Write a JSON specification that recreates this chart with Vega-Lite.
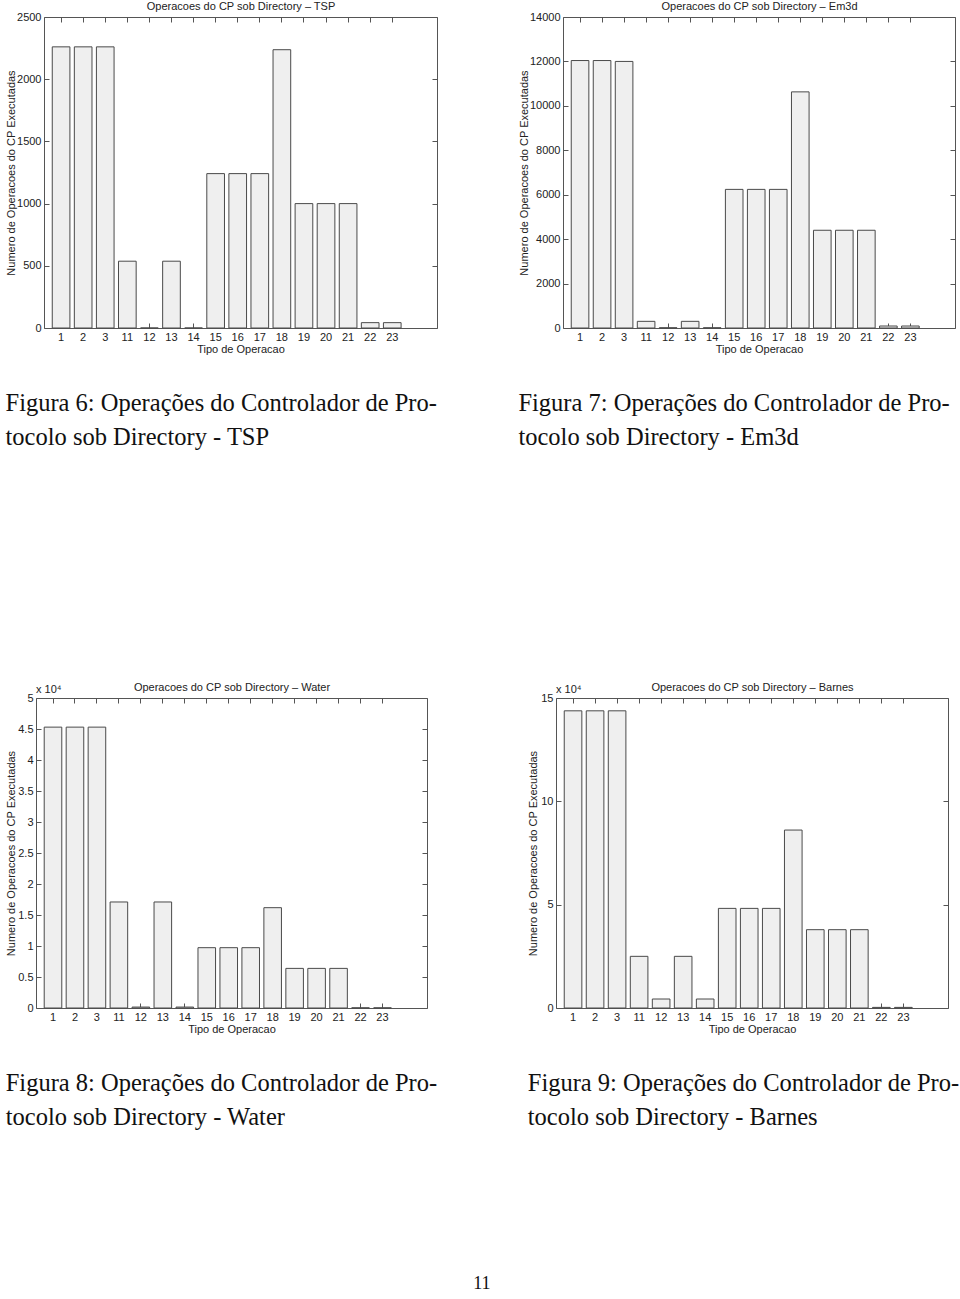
{
  "$schema": "https://vega.github.io/schema/vega-lite/v6.json",
  "background": "white",
  "padding": {"left": 4, "top": 0, "right": 0, "bottom": 0},
  "config": {
    "view": {"stroke": "#555555", "strokeWidth": 1},
    "font": "Liberation Sans",
    "axis": {
      "labelFont": "Liberation Sans", "labelFontSize": 11, "labelColor": "#222222",
      "titleFont": "Liberation Sans", "titleFontSize": 11, "titleFontWeight": "normal", "titleColor": "#222222",
      "domain": false, "grid": false, "tickColor": "#555555", "tickSize": -5, "labelPadding": 8
    },
    "title": {"font": "Liberation Serif", "fontSize": 24.5, "fontWeight": "normal", "color": "#111111", "orient": "bottom", "anchor": "start", "lineHeight": 34, "offset": 38}
  },
  "title": {"text": "11", "orient": "bottom", "anchor": "middle", "offset": 145, "fontSize": 18, "font": "Liberation Serif", "fontWeight": "normal", "color": "#111111"},
  "columns": 1,
  "align": "none",
  "bounds": "full",
  "spacing": 231,
  "concat": [
    {
      "spacing": 0,
      "hconcat": [
        {"width": 1, "height": 10, "view": {"stroke": null}, "data": {"values": [{}]}, "mark": {"type": "text", "text": ""}},
        {
          "spacing": 79,
          "hconcat": [
            {
              "width": 393, "height": 311,
              "title": {"text": ["Figura 6: Operações do Controlador de Pro-", "tocolo sob Directory - TSP"]},
              "data": {"values": [
                {"op": "1", "n": 2260}, {"op": "2", "n": 2260}, {"op": "3", "n": 2260}, {"op": "11", "n": 537},
                {"op": "12", "n": 0}, {"op": "13", "n": 537}, {"op": "14", "n": 0}, {"op": "15", "n": 1241},
                {"op": "16", "n": 1241}, {"op": "17", "n": 1241}, {"op": "18", "n": 2237}, {"op": "19", "n": 1000},
                {"op": "20", "n": 1000}, {"op": "21", "n": 1000}, {"op": "22", "n": 43}, {"op": "23", "n": 43}
              ]},
              "layer": [
                {
                  "mark": {"type": "bar", "fill": "#efefef", "stroke": "#4a4a4a", "strokeWidth": 1},
                  "encoding": {
                    "x": {"field": "op", "type": "nominal", "sort": null,
                      "scale": {"paddingInner": 0.2, "paddingOuter": 1.31, "align": 0.187},
                      "axis": {"orient": "bottom", "title": "Tipo de Operacao", "labelAngle": 0, "titlePadding": 1}},
                    "y": {"field": "n", "type": "quantitative", "scale": {"domain": [0, 2500], "nice": false},
                      "axis": {"orient": "left", "values": [0, 500, 1000, 1500, 2000, 2500], "format": "d", "title": "Numero de Operacoes do CP Executadas", "titlePadding": 0}}
                  }
                },
                {
                  "mark": {"type": "bar", "opacity": 0},
                  "encoding": {
                    "x": {"field": "op", "type": "nominal", "sort": null,
                      "axis": {"orient": "top", "labels": false, "title": "Operacoes do CP sob Directory – TSP", "titlePadding": 5}},
                    "y": {"field": "n", "type": "quantitative",
                      "axis": {"orient": "right", "labels": false, "title": null, "values": [0, 500, 1000, 1500, 2000, 2500]}}
                  }
                }
              ],
              "resolve": {"axis": {"x": "independent", "y": "independent"}}
            },
            {
              "width": 392, "height": 311,
              "title": {"text": ["Figura 7: Operações do Controlador de Pro-", "tocolo sob Directory - Em3d"]},
              "data": {"values": [
                {"op": "1", "n": 12040}, {"op": "2", "n": 12040}, {"op": "3", "n": 12000}, {"op": "11", "n": 300},
                {"op": "12", "n": 10}, {"op": "13", "n": 300}, {"op": "14", "n": 10}, {"op": "15", "n": 6240},
                {"op": "16", "n": 6240}, {"op": "17", "n": 6240}, {"op": "18", "n": 10630}, {"op": "19", "n": 4400},
                {"op": "20", "n": 4400}, {"op": "21", "n": 4400}, {"op": "22", "n": 90}, {"op": "23", "n": 90}
              ]},
              "layer": [
                {
                  "mark": {"type": "bar", "fill": "#efefef", "stroke": "#4a4a4a", "strokeWidth": 1},
                  "encoding": {
                    "x": {"field": "op", "type": "nominal", "sort": null,
                      "scale": {"paddingInner": 0.2, "paddingOuter": 1.31, "align": 0.187},
                      "axis": {"orient": "bottom", "title": "Tipo de Operacao", "labelAngle": 0, "titlePadding": 1}},
                    "y": {"field": "n", "type": "quantitative", "scale": {"domain": [0, 14000], "nice": false},
                      "axis": {"orient": "left", "values": [0, 2000, 4000, 6000, 8000, 10000, 12000, 14000], "format": "d", "title": "Numero de Operacoes do CP Executadas", "titlePadding": 0}}
                  }
                },
                {
                  "mark": {"type": "bar", "opacity": 0},
                  "encoding": {
                    "x": {"field": "op", "type": "nominal", "sort": null,
                      "axis": {"orient": "top", "labels": false, "title": "Operacoes do CP sob Directory – Em3d", "titlePadding": 5}},
                    "y": {"field": "n", "type": "quantitative",
                      "axis": {"orient": "right", "labels": false, "title": null, "values": [0, 2000, 4000, 6000, 8000, 10000, 12000, 14000]}}
                  }
                }
              ],
              "resolve": {"axis": {"x": "independent", "y": "independent"}}
            }
          ]
        }
      ]
    },
    {
      "spacing": 0,
      "hconcat": [
        {"width": 1, "height": 10, "view": {"stroke": null}, "data": {"values": [{}]}, "mark": {"type": "text", "text": ""}},
        {
          "spacing": 89,
          "hconcat": [
            {
              "width": 391, "height": 310,
              "title": {"text": ["Figura 8: Operações do Controlador de Pro-", "tocolo sob Directory - Water"]},
              "data": {"values": [
                {"op": "1", "n": 45300}, {"op": "2", "n": 45300}, {"op": "3", "n": 45300}, {"op": "11", "n": 17100},
                {"op": "12", "n": 150}, {"op": "13", "n": 17100}, {"op": "14", "n": 150}, {"op": "15", "n": 9730},
                {"op": "16", "n": 9730}, {"op": "17", "n": 9730}, {"op": "18", "n": 16180}, {"op": "19", "n": 6390},
                {"op": "20", "n": 6390}, {"op": "21", "n": 6390}, {"op": "22", "n": 30}, {"op": "23", "n": 30}
              ]},
              "layer": [
                {
                  "mark": {"type": "bar", "fill": "#efefef", "stroke": "#4a4a4a", "strokeWidth": 1},
                  "encoding": {
                    "x": {"field": "op", "type": "nominal", "sort": null,
                      "scale": {"paddingInner": 0.2, "paddingOuter": 1.31, "align": 0.187},
                      "axis": {"orient": "bottom", "title": "Tipo de Operacao", "labelAngle": 0, "titlePadding": 1}},
                    "y": {"field": "n", "type": "quantitative", "scale": {"domain": [0, 50000], "nice": false},
                      "axis": {"orient": "left", "values": [0, 5000, 10000, 15000, 20000, 25000, 30000, 35000, 40000, 45000, 50000], "labelExpr": "datum.value / 10000", "title": "Numero de Operacoes do CP Executadas", "titlePadding": 1}}
                  }
                },
                {
                  "mark": {"type": "bar", "opacity": 0},
                  "encoding": {
                    "x": {"field": "op", "type": "nominal", "sort": null,
                      "axis": {"orient": "top", "labels": false, "title": "Operacoes do CP sob Directory – Water", "titlePadding": 5}},
                    "y": {"field": "n", "type": "quantitative",
                      "axis": {"orient": "right", "labels": false, "title": null, "values": [0, 5000, 10000, 15000, 20000, 25000, 30000, 35000, 40000, 45000, 50000]}}
                  }
                },
                {
                  "data": {"values": [{"label": "x 10⁴"}]},
                  "mark": {"type": "text", "align": "left", "baseline": "bottom", "dy": -3, "font": "Liberation Sans", "fontSize": 11, "fontWeight": "normal", "color": "#222222"},
                  "encoding": {"text": {"field": "label"}, "x": {"value": 0}, "y": {"datum": 50000, "axis": null}}
                }
              ],
              "resolve": {"axis": {"x": "independent", "y": "independent"}}
            },
            {
              "width": 392, "height": 310,
              "title": {"text": ["Figura 9: Operações do Controlador de Pro-", "tocolo sob Directory - Barnes"]},
              "data": {"values": [
                {"op": "1", "n": 143800}, {"op": "2", "n": 143800}, {"op": "3", "n": 143800}, {"op": "11", "n": 25000},
                {"op": "12", "n": 4350}, {"op": "13", "n": 25000}, {"op": "14", "n": 4350}, {"op": "15", "n": 48200},
                {"op": "16", "n": 48200}, {"op": "17", "n": 48200}, {"op": "18", "n": 86100}, {"op": "19", "n": 37900},
                {"op": "20", "n": 37900}, {"op": "21", "n": 37900}, {"op": "22", "n": 300}, {"op": "23", "n": 300}
              ]},
              "layer": [
                {
                  "mark": {"type": "bar", "fill": "#efefef", "stroke": "#4a4a4a", "strokeWidth": 1},
                  "encoding": {
                    "x": {"field": "op", "type": "nominal", "sort": null,
                      "scale": {"paddingInner": 0.2, "paddingOuter": 1.31, "align": 0.187},
                      "axis": {"orient": "bottom", "title": "Tipo de Operacao", "labelAngle": 0, "titlePadding": 1}},
                    "y": {"field": "n", "type": "quantitative", "scale": {"domain": [0, 150000], "nice": false},
                      "axis": {"orient": "left", "values": [0, 50000, 100000, 150000], "labelExpr": "datum.value / 10000", "title": "Numero de Operacoes do CP Executadas", "titlePadding": 2}}
                  }
                },
                {
                  "mark": {"type": "bar", "opacity": 0},
                  "encoding": {
                    "x": {"field": "op", "type": "nominal", "sort": null,
                      "axis": {"orient": "top", "labels": false, "title": "Operacoes do CP sob Directory – Barnes", "titlePadding": 5}},
                    "y": {"field": "n", "type": "quantitative",
                      "axis": {"orient": "right", "labels": false, "title": null, "values": [0, 50000, 100000, 150000]}}
                  }
                },
                {
                  "data": {"values": [{"label": "x 10⁴"}]},
                  "mark": {"type": "text", "align": "left", "baseline": "bottom", "dy": -3, "font": "Liberation Sans", "fontSize": 11, "fontWeight": "normal", "color": "#222222"},
                  "encoding": {"text": {"field": "label"}, "x": {"value": 0}, "y": {"datum": 150000, "axis": null}}
                }
              ],
              "resolve": {"axis": {"x": "independent", "y": "independent"}}
            }
          ]
        }
      ]
    }
  ]
}
